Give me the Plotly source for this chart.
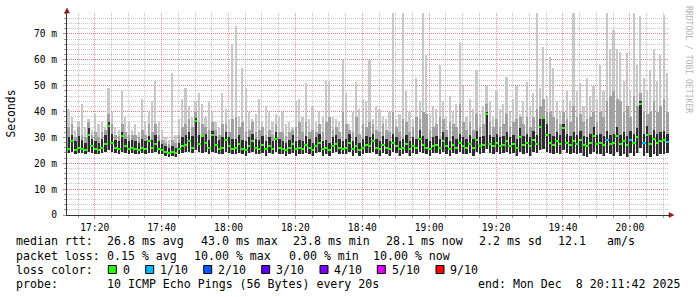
import plotly.graph_objects as go
import pandas as pd

START = "2025-12-08 17:11:42"
END = "2025-12-08 20:11:42"
STEP_S = 60

# --- data (ms), one value per minute ---
median_ms = [
    25.5, 28.5, 25.0, 26.0, 25.5, 25.0, 31.0, 26.5, 25.5, 25.0,
    26.0, 27.5, 34.5, 28.0, 26.0, 25.5, 30.5, 26.5, 25.5, 26.0,
    25.5, 25.0, 26.0, 25.5, 28.5, 26.0, 27.5, 25.5, 25.0, 24.5,
    23.8, 24.5, 24.0, 25.5, 26.5, 27.0, 28.5, 26.0, 36.5, 27.5,
    30.5, 28.0, 26.0, 31.0, 27.0, 25.5, 26.0, 29.0, 26.5, 25.5,
    26.0, 27.5, 25.5, 25.0, 26.5, 28.5, 26.0, 25.5, 27.0, 25.5,
    26.5, 25.5, 29.5, 26.0, 25.5, 25.0, 26.0, 27.5, 25.5, 26.0,
    25.5, 27.0, 26.0, 25.0, 26.5, 28.0, 25.5, 26.0, 25.0, 26.5,
    27.5, 26.0, 25.5, 26.0, 28.0, 25.5, 26.5, 25.0, 26.0, 27.0,
    26.5, 28.5, 26.0, 25.5, 27.0, 26.0, 25.5, 28.0, 26.5, 25.5,
    26.0, 27.5, 25.5, 26.5, 26.0, 29.5, 27.0, 26.0, 25.5, 26.5,
    27.0, 26.0, 28.5, 26.5, 25.5, 27.0, 26.0, 28.0, 26.5, 26.0,
    27.5, 26.0, 29.0, 26.5, 27.0, 39.0, 27.5, 26.5, 28.0, 26.5,
    27.0, 28.5, 26.5, 27.5, 26.0, 30.0, 27.0, 28.0, 26.5, 29.0,
    27.5, 34.0, 37.5, 31.0, 28.0, 27.0, 28.5, 27.5, 33.5, 28.0,
    27.0, 28.5, 27.5, 29.0, 27.0, 26.5, 28.0, 30.5, 27.5, 28.0,
    27.0, 29.0, 27.5, 28.0, 30.5, 27.5, 28.5, 27.0, 29.0, 28.0,
    30.0, 43.0, 28.0, 31.0, 27.5, 29.5, 28.0, 28.5, 29.0, 28.1,
]
min_ms = [
    24.0, 24.5, 23.5, 24.0, 24.0, 23.5, 24.5, 24.0, 23.5, 23.5,
    24.0, 24.5, 25.0, 24.5, 24.0, 23.5, 24.5, 24.0, 23.5, 24.0,
    23.5, 23.5, 24.0, 23.5, 24.0, 24.0, 24.5, 23.5, 23.5, 23.0,
    22.5, 23.0, 22.5, 23.5, 24.0, 24.5, 24.5, 24.0, 25.0, 24.5,
    24.0, 24.5, 23.5, 24.5, 24.0, 23.5, 23.5, 24.5, 24.0, 23.5,
    23.5, 24.0, 23.5, 23.0, 24.0, 24.5, 23.5, 23.5, 24.0, 23.0,
    24.0, 23.5, 24.5, 23.5, 23.5, 23.0, 23.5, 24.0, 23.0, 23.5,
    23.5, 24.0, 23.5, 23.0, 24.0, 24.5, 23.0, 23.5, 23.0, 24.0,
    24.5, 23.5, 23.5, 23.5, 24.5, 23.0, 24.0, 23.0, 23.5, 24.0,
    24.0, 24.5, 23.5, 23.0, 24.0, 23.5, 23.0, 24.5, 24.0, 23.0,
    23.5, 24.0, 23.0, 24.0, 23.5, 24.5, 24.0, 23.5, 23.0, 24.0,
    24.0, 23.5, 24.5, 23.5, 23.0, 24.0, 23.5, 24.5, 23.5, 23.5,
    24.0, 23.0, 24.5, 23.5, 24.0, 25.5, 24.0, 23.5, 24.5, 23.5,
    24.0, 24.5, 23.5, 24.0, 23.0, 24.5, 23.5, 24.0, 23.0, 24.5,
    24.0, 25.0, 25.5, 24.5, 24.0, 23.5, 24.0, 23.5, 25.0, 24.0,
    23.5, 24.0, 23.5, 24.0, 23.0, 22.5, 23.5, 24.5, 23.5, 23.5,
    23.0, 24.0, 23.5, 23.0, 24.5, 23.0, 23.5, 22.5, 24.0, 23.0,
    24.0, 26.0, 23.0, 24.0, 22.5, 23.5, 23.0, 23.5, 23.5, 24.0,
]
inner_ms = [
    30.0, 31.0, 28.5, 30.5, 29.0, 28.0, 33.5, 29.5, 28.5, 28.0,
    29.5, 31.0, 36.0, 31.5, 29.0, 28.5, 32.0, 29.5, 28.5, 29.0,
    28.5, 28.0, 29.5, 28.5, 30.5, 29.0, 31.0, 28.5, 27.5, 26.5,
    26.0, 26.5, 26.0, 28.0, 30.0, 31.0, 32.0, 30.5, 37.5, 31.0,
    31.0, 31.5, 29.0, 32.5, 30.5, 29.0, 30.0, 32.0, 30.0, 29.5,
    29.5, 31.0, 29.0, 28.5, 30.0, 31.5, 29.5, 29.0, 30.5, 28.5,
    30.0, 28.5, 32.0, 29.5, 28.5, 28.0, 29.0, 31.0, 28.5, 29.0,
    28.5, 30.5, 29.5, 28.0, 30.0, 31.5, 28.5, 29.0, 28.0, 30.0,
    31.0, 29.5, 28.5, 29.5, 31.5, 28.5, 30.0, 28.0, 29.5, 30.5,
    30.0, 31.5, 29.5, 28.5, 30.5, 29.5, 28.5, 31.5, 30.0, 28.5,
    29.5, 31.0, 28.5, 30.0, 29.5, 33.0, 30.5, 29.5, 28.5, 30.0,
    30.5, 29.5, 32.0, 30.0, 28.5, 30.5, 29.5, 31.5, 30.0, 29.5,
    31.0, 29.5, 32.5, 30.0, 30.5, 40.0, 31.0, 30.0, 31.5, 30.0,
    30.5, 32.0, 30.0, 31.0, 29.5, 33.5, 30.5, 31.5, 30.0, 32.5,
    31.0, 37.0, 38.0, 35.0, 31.5, 30.5, 32.0, 31.0, 35.0, 31.5,
    30.5, 32.0, 31.0, 32.5, 30.5, 30.0, 31.5, 34.0, 31.0, 31.5,
    30.5, 32.5, 31.0, 31.5, 34.0, 31.0, 32.0, 30.5, 32.5, 31.5,
    33.5, 44.0, 31.5, 34.5, 31.0, 33.0, 31.5, 32.0, 32.5, 31.5,
]
mid_ms = [
    34, 35, 30, 34, 31, 30, 36, 31, 32, 30,
    32, 33, 39, 35, 31, 30.5, 35, 32, 31, 31,
    31, 30, 33, 31, 35, 32, 35, 31, 29, 28,
    27.5, 29, 28, 31, 34, 35, 37, 34, 40, 36,
    35, 34, 33, 36, 33, 31, 35, 35, 32, 37,
    38, 34, 36, 32, 33, 36, 32, 33, 34, 31,
    33, 31, 35, 32, 32, 30.5, 32, 33, 34, 36,
    32, 36, 32, 33, 32, 35, 32, 36, 38, 33,
    34, 32, 40, 35, 33, 32, 38, 31.5, 35, 34,
    36, 35, 33, 32, 35, 33, 32, 40, 34, 32,
    37, 36, 32, 34, 38, 37, 40, 39, 33, 34,
    35, 38, 37, 33, 36, 35, 34, 43, 36, 33,
    36, 33, 39, 34, 35, 43, 36, 34, 37, 34,
    35, 39, 34, 36, 37, 38, 35, 38, 34, 38,
    41, 42, 45, 40, 40, 38, 37, 35, 40, 37,
    36, 42, 38, 39, 36, 37, 38, 40, 36, 40,
    38, 44, 46, 48, 45, 44, 40, 42, 38, 46,
    42, 47, 40, 39, 40, 44, 40, 42, 45, 40,
]
max_ms = [
    41, 38, 33, 36, 43, 34, 37, 33, 39, 35,
    36, 34, 49, 40, 34, 33, 48, 38, 36, 33,
    35, 32, 45, 36, 40, 44, 52, 36, 33, 30,
    29, 55, 31, 37, 45, 49, 42, 38, 44, 47,
    43, 38, 44, 40, 36, 34, 47, 41, 37, 66,
    73, 38, 57, 49, 40, 37, 39, 45, 36, 42,
    40, 36, 39, 38, 40, 35, 36, 34, 44, 45,
    38, 51, 37, 42, 36, 40, 38, 52, 52, 38,
    37, 36, 60, 47, 35, 40, 51.5, 41, 45, 44,
    60, 37, 42, 41, 38, 37, 40, 78, 37, 39,
    78, 48, 40, 37, 53, 44, 78, 62, 39, 42,
    41, 58, 44, 38, 46, 40, 43, 67, 50, 38,
    45, 41, 56, 39, 42, 50, 44, 38, 48, 41,
    43, 53.5, 40, 45, 50, 39, 44, 51.5, 42, 47,
    78, 49, 65, 46, 61, 57, 44, 40, 45, 48,
    44, 78, 48, 51, 42, 53, 46, 50, 45, 58,
    48, 78, 64, 71.5, 64, 63, 52, 62.5, 48, 78,
    58, 77, 53, 48, 56, 64, 52, 62, 77.5, 55,
]
loss_tenths = [
    0, 0, 0, 0, 0, 0, 0, 0, 0, 0,
    0, 0, 0, 0, 0, 0, 0, 0, 0, 0,
    0, 0, 0, 0, 0, 0, 0, 0, 0, 0,
    0, 0, 0, 0, 0, 0, 0, 0, 0, 0,
    0, 0, 0, 0, 0, 0, 0, 0, 0, 0,
    0, 0, 0, 0, 0, 0, 0, 0, 0, 0,
    0, 0, 0, 0, 0, 0, 0, 0, 0, 0,
    0, 0, 0, 0, 0, 0, 0, 0, 0, 0,
    0, 0, 0, 0, 0, 0, 0, 0, 0, 0,
    0, 0, 0, 0, 0, 0, 0, 0, 0, 0,
    0, 0, 0, 0, 0, 0, 0, 0, 0, 0,
    0, 0, 0, 0, 0, 0, 0, 0, 0, 0,
    0, 0, 0, 0, 0, 0, 0, 0, 0, 0,
    0, 0, 0, 0, 0, 0, 0, 0, 0, 0,
    0, 0, 0, 0, 0, 0, 0, 0, 0, 0,
    0, 0, 0, 0, 0, 0, 0, 0, 0, 0,
    0, 1, 0, 0, 0, 0, 0, 0, 1, 0,
    0, 0, 1, 0, 0, 0, 0, 0, 0, 1,
]

y_tickvals = [0, 10, 20, 30, 40, 50, 60, 70]
y_ticktext = ["0", "10 m", "20 m", "30 m", "40 m", "50 m", "60 m", "70 m"]

loss_colors = {0: "#26ff00", 1: "#00b8ff", 2: "#0059ff", 3: "#5e00ff",
               4: "#7e00ff", 5: "#dd00ff", 9: "#ff0000"}
loss_labels = ["0", "1/10", "2/10", "3/10", "4/10", "5/10", "9/10"]
loss_keys = [0, 1, 2, 3, 4, 5, 9]

legend_line1 = [("median rtt:", 16), ("26.8 ms avg", 107.3), ("43.0 ms max", 200.7),
                ("23.8 ms min", 293.3), ("28.1 ms now", 386), ("2.2 ms sd", 478.7),
                ("12.1", 558.3), ("am/s", 607.3)]
legend_line2 = [("packet loss:", 16), ("0.15 % avg", 107.3), ("10.00 % max", 194),
                ("0.00 % min", 288.5), ("10.00 % now", 372.7)]
legend_line4 = [("probe:", 16), ("10 ICMP Echo Pings (56 Bytes) every 20s", 107.3),
                ("end: Mon Dec\u00a0\u00a08 20:11:42 2025", 478.3)]
square_x = [108.3, 145.7, 203.7, 261.7, 320, 377.3, 436]
label_x = [123.3, 160.3, 218.3, 276.3, 334.3, 391.7, 450]

# --- figure ---
times = pd.date_range(START, periods=len(median_ms), freq=f"{STEP_S}s") + pd.Timedelta(seconds=STEP_S / 2)
W = STEP_S * 1000

fig = go.Figure()
fig.add_bar(x=times, base=min_ms, y=[h - l for h, l in zip(max_ms, min_ms)],
            width=W * 0.5, marker=dict(color="#c8c8c8", line=dict(width=0)), hoverinfo="skip")
fig.add_bar(x=times, base=min_ms, y=[h - l for h, l in zip(mid_ms, min_ms)],
            width=W * 0.8, marker=dict(color="#a2a2a2", line=dict(width=0)), hoverinfo="skip")
fig.add_bar(x=times, base=min_ms, y=[h - l for h, l in zip(inner_ms, min_ms)],
            width=W * 0.7, marker=dict(color="#2d2d2d", line=dict(width=0)), hoverinfo="skip")
fig.add_bar(x=times, base=[m - 0.4 for m in median_ms], y=[0.8] * len(median_ms),
            width=W, marker=dict(color=[loss_colors[v] for v in loss_tenths], line=dict(width=0)),
            hoverinfo="skip")

PL, PR, PT, PB = 67, 669, 13, 215
FIG_W, FIG_H = 697, 297


def fx(px):
    return (px - PL) / (PR - PL)


def fy(py):
    return (PB - py) / (PB - PT)


MONO = "DejaVu Sans Mono"
TXT = 11.6
grid_major = "rgba(225,70,70,0.55)"
grid_minor = "rgba(140,140,140,0.5)"

fig.update_layout(
    width=FIG_W, height=FIG_H,
    margin=dict(l=PL, r=FIG_W - PR, t=PT, b=FIG_H - PB, pad=0),
    paper_bgcolor="white", plot_bgcolor="white",
    barmode="overlay", bargap=0, showlegend=False,
    font=dict(family=MONO, size=TXT, color="#000000"),
)
fig.update_xaxes(
    type="date", range=[START, END], tick0="2025-12-08 17:00:00", dtick=20 * 60 * 1000,
    tickformat="%H:%M", tickfont=dict(size=9.6, color="#000"),
    showgrid=True, gridcolor=grid_major, griddash="1px,1px", gridwidth=1,
    minor=dict(dtick=5 * 60 * 1000, tick0="2025-12-08 17:00:00", showgrid=True,
               gridcolor=grid_minor, griddash="1px,1px", gridwidth=1,
               ticks="outside", ticklen=2, tickcolor="#999"),
    showline=True, linecolor="#333", linewidth=1,
    ticks="outside", ticklen=3, tickcolor="#999", ticklabelstandoff=0,
    zeroline=False, fixedrange=True,
)
fig.update_yaxes(
    range=[0, 78.1], tickmode="array", tickvals=y_tickvals, ticktext=y_ticktext,
    tickfont=dict(size=9.6, color="#000"),
    showgrid=True, gridcolor=grid_major, griddash="1px,1px", gridwidth=1,
    minor=dict(dtick=2, tick0=0, showgrid=True, gridcolor=grid_minor,
               griddash="1px,1px", gridwidth=1, ticks="outside", ticklen=2, tickcolor="#999"),
    showline=True, linecolor="#333", linewidth=1,
    ticks="outside", ticklen=3, tickcolor="#999", ticklabelstandoff=4,
    zeroline=False, fixedrange=True,
)

arrow_col = "#8b1a1a"
shapes = [
    dict(type="path", xref="paper", yref="paper", xsizemode="pixel", ysizemode="pixel",
         xanchor=1, yanchor=0, path="M 0,-2.5 L 5,0 L 0,2.5 Z",
         fillcolor=arrow_col, line=dict(color=arrow_col, width=0.5)),
    dict(type="path", xref="paper", yref="paper", xsizemode="pixel", ysizemode="pixel",
         xanchor=0, yanchor=1, path="M -2.5,0 L 2.5,0 L 0,5 Z",
         fillcolor=arrow_col, line=dict(color=arrow_col, width=0.5)),
]
for k, sx in zip(loss_keys, square_x):
    shapes.append(dict(type="rect", xref="paper", yref="paper",
                       x0=fx(sx), x1=fx(sx + 8), y0=fy(273.5), y1=fy(265.5),
                       fillcolor=loss_colors[k], line=dict(color="#000", width=1)))
fig.update_layout(shapes=shapes)

ann = []


def add_text(text, px, py, size=TXT, color="#000", angle=0, xanchor="left"):
    ann.append(dict(text=text, x=fx(px), y=fy(py), xref="paper", yref="paper",
                    xanchor=xanchor, yanchor="middle", showarrow=False, textangle=angle,
                    font=dict(family=MONO, size=size, color=color), borderpad=0, borderwidth=0))


for t, px in legend_line1:
    add_text(t, px, 241.5)
for t, px in legend_line2:
    add_text(t, px, 255.5)
add_text("loss color:", 16, 269.5)
for lab, lx in zip(loss_labels, label_x):
    add_text(lab, lx, 269.5)
for t, px in legend_line4:
    add_text(t, px, 283.5)

add_text("Seconds", 10.5, 114, size=11.4, angle=-90, xanchor="center")
add_text("RRDTOOL / TOBI OETIKER", 689, 59, size=8.1, color="#b4b4b4", angle=90, xanchor="center")
fig.update_layout(annotations=ann)

fig.write_html("out.html")
